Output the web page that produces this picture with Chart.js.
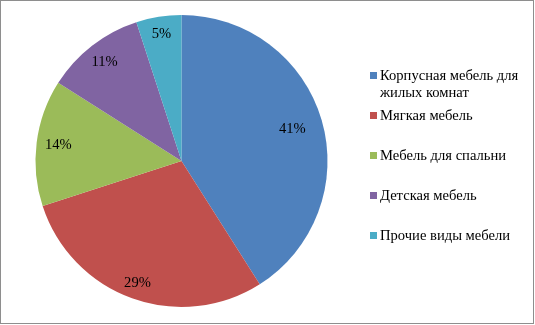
<!DOCTYPE html>
<html>
<head>
<meta charset="utf-8">
<script src="https://cdn.jsdelivr.net/npm/chart.js@4"></script>
<style>
  html, body { margin: 0; padding: 0; background: #fff; }
  #wrap { position: relative; width: 535px; height: 325px; }
  #frame { position: absolute; left: 0; top: 0; width: 532px; height: 322px; border: 1px solid #8e8e8e; box-sizing: content-box; pointer-events: none; }
  canvas { position: absolute; left: 0; top: 0; }
  #legend { position: absolute; left: 368px; top: 67px; font-family: "Liberation Serif", "Times New Roman", serif; font-size: 14.6px; color: #000; }
  .item { position: absolute; left: 0; white-space: nowrap; line-height: 17px; }
  .box { position: absolute; left: 2px; top: 5px; width: 7px; height: 7px; }
  .txt { position: absolute; left: 12px; top: 0; }
</style>
</head>
<body>
<div id="wrap">
  <canvas id="c" width="535" height="325"></canvas>
  <div id="frame"></div>
  <div id="legend"></div>
</div>
<script>
// Доли сегментов рынка мебели, %
const categories = [
  "Корпусная мебель для\nжилых комнат",
  "Мягкая мебель",
  "Мебель для спальни",
  "Детская мебель",
  "Прочие виды мебели"
];
const shares = [41, 29, 14, 11, 5];
const valueLabels = ["41%", "29%", "14%", "11%", "5%"];
const colors = ["#4F81BD", "#C0504D", "#9BBB59", "#8064A2", "#4BACC6"];

// radial placement of each percent label, as a fraction of the radius
const labelRadius = [0.79, 0.89, 0.85, 0.86, 0.88];

const percentLabels = {
  id: "percentLabels",
  afterDatasetsDraw(chart) {
    const ctx = chart.ctx;
    const meta = chart.getDatasetMeta(0);
    ctx.save();
    ctx.font = '14.6px "Liberation Serif", "Times New Roman", serif';
    ctx.fillStyle = "#000";
    ctx.textAlign = "center";
    ctx.textBaseline = "middle";
    meta.data.forEach((arc, i) => {
      const p = arc.getProps(["x", "y", "startAngle", "endAngle", "outerRadius"], true);
      const mid = (p.startAngle + p.endAngle) / 2;
      const r = p.outerRadius * labelRadius[i];
      ctx.fillText(valueLabels[i], p.x + Math.cos(mid) * r, p.y + Math.sin(mid) * r);
    });
    ctx.restore();
  }
};

new Chart(document.getElementById("c"), {
  type: "pie",
  data: {
    labels: categories,
    datasets: [{
      data: shares,
      backgroundColor: colors,
      borderWidth: 0
    }]
  },
  options: {
    responsive: false,
    animation: false,
    layout: { padding: { left: 35, right: 207, top: 15, bottom: 18 } },
    plugins: { legend: { display: false }, tooltip: { enabled: false } }
  },
  plugins: [percentLabels]
});

// legend at the right
const legend = document.getElementById("legend");
const rowTops = [0, 40, 80, 120, 160];
categories.forEach((name, i) => {
  const item = document.createElement("div");
  item.className = "item";
  item.style.top = rowTops[i] + "px";
  const box = document.createElement("div");
  box.className = "box";
  box.style.background = colors[i];
  const txt = document.createElement("div");
  txt.className = "txt";
  txt.innerHTML = name.split("\n").join("<br>");
  item.appendChild(box);
  item.appendChild(txt);
  legend.appendChild(item);
});
</script>
</body>
</html>
